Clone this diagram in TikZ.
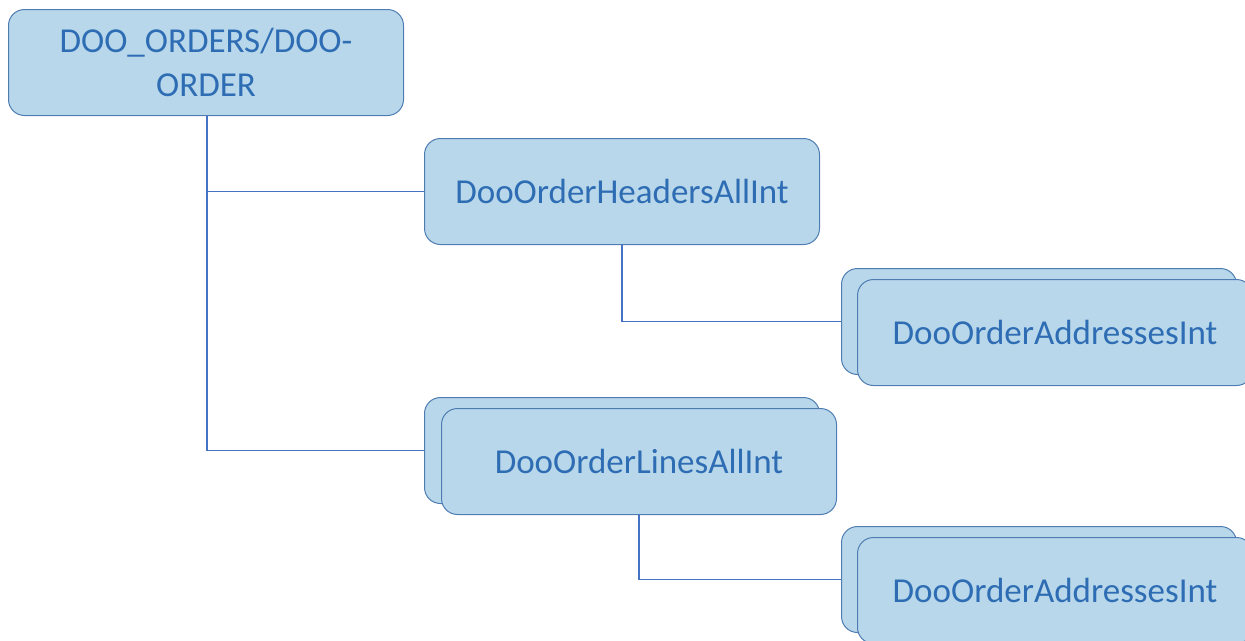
\documentclass[tikz,border=0pt]{standalone}
\usepackage{fontspec}
\setmainfont{Carlito}
\usetikzlibrary{positioning}

\definecolor{boxfill}{HTML}{B8D7EA}
\definecolor{boxline}{HTML}{4F7DB3}
\definecolor{boxtext}{HTML}{2E6DB4}
\definecolor{linkcol}{HTML}{4472C4}

\tikzset{
  entity/.style={draw=boxline, fill=boxfill, rounded corners=16pt, line width=1pt,
    minimum width=395pt, minimum height=106pt, anchor=north west,
    text=boxtext, font=\fontsize{35}{44}\selectfont, align=center, inner sep=0pt},
  link/.style={draw=linkcol, line width=1.2pt}
}

\begin{document}
\begin{tikzpicture}[x=1pt, y=-1pt]

  \useasboundingbox (0,0) rectangle (1245,640);
  \clip (0,0) rectangle (1245,640);

  % Define nodes
  \node[entity] (order) at (8,9) {DOO\_ORDERS/DOO-\\ORDER};

  \node[entity] (headers) at (424,138) {DooOrderHeadersAllInt};

  \node[entity] (addr_h_bg) at (841,268) {};
  \node[entity] (addr_h) at ([shift={(16pt,-11pt)}]addr_h_bg.north west) {DooOrderAddressesInt};

  \node[entity] (lines_bg) at (424,397) {};
  \node[entity] (lines) at ([shift={(17pt,-11pt)}]lines_bg.north west) {DooOrderLinesAllInt};

  \node[entity] (addr_l_bg) at (841,526) {};
  \node[entity] (addr_l) at ([shift={(16pt,-11pt)}]addr_l_bg.north west) {DooOrderAddressesInt};

  % Connect nodes
  \coordinate (trunk) at (207,0);
  \draw[link] (trunk |- order.south) |- (headers.west);
  \draw[link] (trunk |- headers.west) |- (lines_bg.west);

  \coordinate (trunk_h) at (622,0);
  \draw[link] (trunk_h |- headers.south) |- (addr_h_bg.west);

  \coordinate (trunk_l) at (639,0);
  \draw[link] (trunk_l |- lines.south) |- (addr_l_bg.west);

\end{tikzpicture}
\end{document}
